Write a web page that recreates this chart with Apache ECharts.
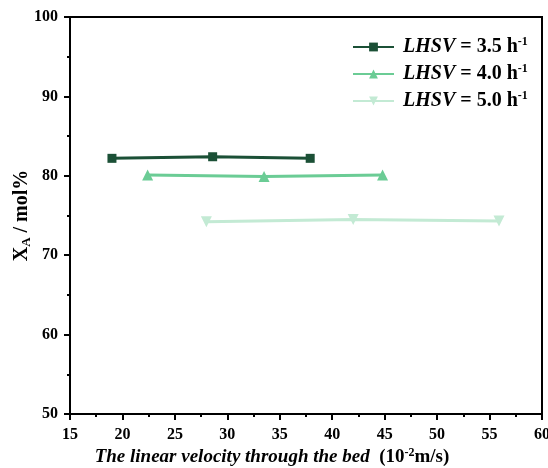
<!DOCTYPE html>
<html>
<head>
<meta charset="utf-8">
<script src="https://cdn.jsdelivr.net/npm/echarts@6/dist/echarts.min.js"></script>
<style>
  html, body { margin: 0; padding: 0; background: #fff; }
  #chart { width: 548px; height: 468px; }
</style>
</head>
<body>
<div id="chart"></div>
<script>
// values
var lhsvNames = ['3.5', '4.0', '5.0'];
var vel35 = [19.0, 28.6, 37.9];
var xa35 = [82.2, 82.4, 82.2];
var vel40 = [22.4, 33.5, 44.8];
var xa40 = [80.1, 79.9, 80.1];
var vel50 = [28.0, 42.0, 55.9];
var xa50 = [74.2, 74.5, 74.3];

var colors = ['#1b5036', '#6bcc95', '#c3ead4'];
var font = 'Liberation Serif';

function pairs(xs, ys) {
  return xs.map(function (x, i) { return [x, ys[i]]; });
}

function richSet(size, small, subsup) {
  var o = {
    it: { fontFamily: font, fontStyle: 'italic', fontWeight: 'bold', fontSize: size, color: '#000', lineHeight: size + 2 },
    n: { fontFamily: font, fontWeight: 'bold', fontSize: size, color: '#000', lineHeight: size + 2 }
  };
  o[subsup] = {
    fontFamily: font, fontWeight: 'bold', fontSize: small, color: '#000',
    verticalAlign: subsup === 'sup' ? 'top' : 'bottom', lineHeight: size + 2
  };
  return o;
}

var legendRich = richSet(20, 12, 'sup');
legendRich.it.padding = [0, 0, 0, 4];

var dom = document.getElementById('chart');
var myChart = echarts.init(dom);

var option = {
  animation: false,
  textStyle: { fontFamily: font, fontWeight: 'bold', color: '#000' },
  grid: {
    left: 70, right: 6, top: 17, bottom: 54,
    outerBoundsMode: 'none',
    show: true, borderColor: '#000', borderWidth: 2
  },
  legend: {
    orient: 'vertical',
    left: 347,
    top: 31,
    itemWidth: 41,
    itemHeight: 11,
    itemGap: 6,
    data: ['s0', 's1', 's2'],
    formatter: function (name) {
      var i = +name.slice(1);
      return '{it|LHSV}{n| = ' + lhsvNames[i] + ' h}{sup|-1}';
    },
    textStyle: {
      fontFamily: font,
      fontWeight: 'bold',
      fontSize: 20,
      color: '#000',
      rich: legendRich
    }
  },
  xAxis: {
    type: 'value',
    min: 15, max: 60, interval: 5,
    name: '{it|The linear velocity through the bed}{n|  (10}{sup|-2}{n|m/s)}',
    nameLocation: 'middle',
    nameGap: 33,
    nameMoveOverlap: false,
    nameTextStyle: {
      padding: [0, 68, 0, 0],
      rich: richSet(19, 12, 'sup')
    },
    axisLine: { onZero: false, lineStyle: { color: '#000', width: 2 } },
    axisTick: { inside: false, length: 6, lineStyle: { width: 2, color: '#000' } },
    minorTick: { show: true, splitNumber: 2, length: 3, lineStyle: { width: 2, color: '#000' } },
    splitLine: { show: false },
    axisLabel: { fontFamily: font, fontWeight: 'bold', fontSize: 16, color: '#000', margin: 13 }
  },
  yAxis: {
    type: 'value',
    min: 50, max: 100, interval: 10,
    name: '{n|X}{sub|A}{n| / mol%}',
    nameLocation: 'middle',
    nameGap: 37,
    nameMoveOverlap: false,
    nameRotate: 90,
    nameTextStyle: {
      rich: richSet(20, 13, 'sub')
    },
    axisLine: { onZero: false, lineStyle: { color: '#000', width: 2 } },
    axisTick: { inside: false, length: 6, lineStyle: { width: 2, color: '#000' } },
    minorTick: { show: true, splitNumber: 2, length: 3, lineStyle: { width: 2, color: '#000' } },
    splitLine: { show: false },
    axisLabel: { fontFamily: font, fontWeight: 'bold', fontSize: 16, color: '#000', margin: 12 }
  },
  series: [
    {
      name: 's0', type: 'line',
      data: pairs(vel35, xa35),
      symbol: 'rect', symbolSize: 9,
      itemStyle: { color: colors[0] },
      lineStyle: { color: colors[0], width: 3 }
    },
    {
      name: 's1', type: 'line',
      data: pairs(vel40, xa40),
      symbol: 'triangle', symbolSize: 11,
      itemStyle: { color: colors[1] },
      lineStyle: { color: colors[1], width: 3 }
    },
    {
      name: 's2', type: 'line',
      data: pairs(vel50, xa50),
      symbol: 'triangle', symbolRotate: 180, symbolSize: 11,
      itemStyle: { color: colors[2] },
      lineStyle: { color: colors[2], width: 3 }
    }
  ]
};

myChart.setOption(option, true);
</script>
</body>
</html>
